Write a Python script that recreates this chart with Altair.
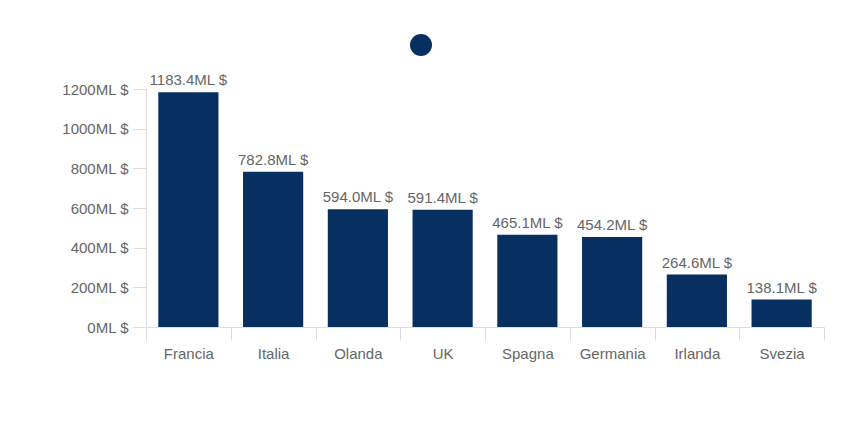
import altair as alt
import pandas as pd

countries = ["Francia", "Italia", "Olanda", "UK", "Spagna", "Germania", "Irlanda", "Svezia"]
values = [1183.4, 782.8, 594.0, 591.4, 465.1, 454.2, 264.6, 138.1]
series = ["Export"] * len(countries)

df = pd.DataFrame({"country": countries, "value": values, "series": series})

GREY = "#666666"
BAR = "#072f5f"
FONT = "Liberation Sans"
FS = 15

base = alt.Chart(df).encode(
    x=alt.X(
        "country:N",
        sort=countries,
        scale=alt.Scale(paddingInner=0, paddingOuter=0),
        axis=alt.Axis(
            title=None, labelAngle=0, tickBand="extent", tickSize=13,
            labelPadding=6, domainColor="#dddddd", tickColor="#dddddd",
            labelColor=GREY, labelFontSize=FS, labelFont=FONT,
        ),
    ),
    y=alt.Y(
        "value:Q",
        scale=alt.Scale(domain=[0, 1200], nice=False),
        axis=alt.Axis(
            title=None, values=[0, 200, 400, 600, 800, 1000, 1200], grid=False,
            labelExpr="datum.value + 'ML $'", tickSize=13, labelPadding=5,
            domainColor="#dddddd", tickColor="#dddddd",
            labelColor=GREY, labelFontSize=FS, labelFont=FONT,
        ),
    ),
)

bars = base.mark_bar(width=alt.RelativeBandSize(0.71)).encode(
    color=alt.Color(
        "series:N",
        scale=alt.Scale(range=[BAR]),
        legend=alt.Legend(
            title=None, orient="none", legendX=264, legendY=-55,
            labelExpr="''", symbolType="circle", symbolSize=484,
            symbolStrokeWidth=0, padding=0, labelLimit=1,
        ),
    )
)

labels = base.mark_text(dy=-4, baseline="bottom", fontSize=FS, font=FONT, color=GREY).encode(
    text=alt.Text("label:N")
).transform_calculate(label="format(datum.value, '.1f') + 'ML $'")

chart = alt.layer(bars, labels).properties(
    width=678, height=238,
    autosize=alt.AutoSizeParams(type="none"),
    padding={"left": 146, "top": 89, "right": 26, "bottom": 98},
).configure(background="white").configure_view(stroke=None)

chart.save("out.html", embed_options={"renderer": "svg", "actions": False})
